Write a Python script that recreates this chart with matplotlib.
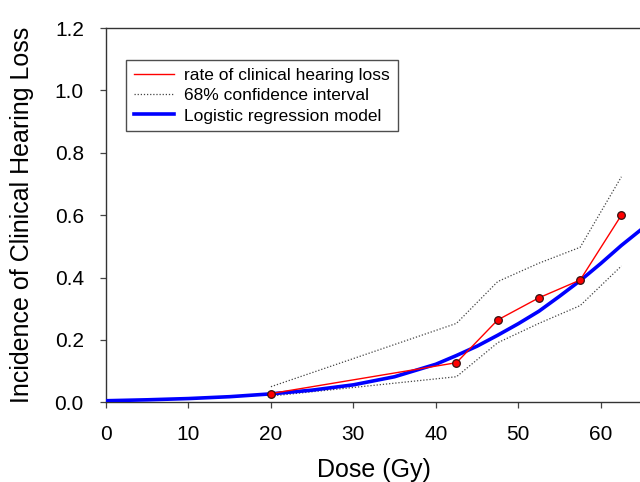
import matplotlib
matplotlib.use("Agg")
import matplotlib.pyplot as plt
from matplotlib.lines import Line2D

plt.rcParams['font.family'] = ['Liberation Sans', 'DejaVu Sans']

# observed rates
dose = [20, 42.5, 47.5, 52.5, 57.5, 62.5]
rate = [0.028, 0.127, 0.264, 0.335, 0.392, 0.600]
ci_upper = [0.050, 0.253, 0.387, 0.446, 0.497, 0.723]
ci_lower = [0.020, 0.082, 0.191, 0.253, 0.310, 0.437]

# logistic regression model curve
dose_model = [0, 5, 10, 15, 20, 25, 30, 35, 40, 42.5, 45, 47.5, 50, 52.5, 55, 57.5, 60, 62.5, 65]
p_model = [0.005, 0.008, 0.012, 0.018, 0.027, 0.039, 0.056, 0.082, 0.122, 0.150, 0.180,
           0.215, 0.252, 0.292, 0.340, 0.390, 0.445, 0.503, 0.556]

xticks = [0, 10, 20, 30, 40, 50, 60]
yticks = [0.0, 0.2, 0.4, 0.6, 0.8, 1.0, 1.2]

labels = ['rate of clinical hearing loss', '68% confidence interval', 'Logistic regression model']

fig = plt.figure(figsize=(6.4, 4.82), dpi=100)
ax = fig.add_axes([106/640, 1 - 402.3/482, 536/640, 374.3/482])

dot = (0, (1, 1.5))
ax.plot(dose, ci_upper, linestyle=dot, color='#444444', linewidth=0.9, zorder=2)
ax.plot(dose, ci_lower, linestyle=dot, color='#444444', linewidth=0.9, zorder=2)
ax.plot(dose_model, p_model, color='#0000ff', linewidth=2.6, zorder=3)
ax.plot(dose, rate, color='red', linewidth=1.0, marker='o', markersize=5.5,
        markerfacecolor='red', markeredgecolor='#331111', markeredgewidth=0.9, zorder=4)

ax.set_xlim(0, 65)
ax.set_ylim(0, 1.2)
ax.set_xticks(xticks)
ax.set_yticks(yticks)
ax.set_yticklabels([f"{v:.1f}" for v in yticks])
ax.tick_params(axis='both', direction='out', length=4.5, width=0.9, color='#444444',
               labelsize=15, pad=11.5)
for s in ax.spines.values():
    s.set_color('#333333')
    s.set_linewidth(1.0)

ax.set_xlabel('Dose (Gy)', fontsize=18, labelpad=10.5)
ax.set_ylabel('Incidence of Clinical Hearing Loss', fontsize=18, labelpad=14.5)

handles = [Line2D([], [], color='red', linewidth=1.0),
           Line2D([], [], color='#444444', linestyle=dot, linewidth=0.9),
           Line2D([], [], color='#0000ff', linewidth=2.6)]
leg = ax.legend(handles, labels, loc='upper left', bbox_to_anchor=(0.037, 0.915),
                borderaxespad=0, fontsize=12.5, frameon=True, fancybox=False,
                edgecolor='#222222', handlelength=2.3, handletextpad=0.6,
                labelspacing=0.3, borderpad=0.45)
leg.get_frame().set_linewidth(1.0)

fig.savefig('out.png', dpi=100)
